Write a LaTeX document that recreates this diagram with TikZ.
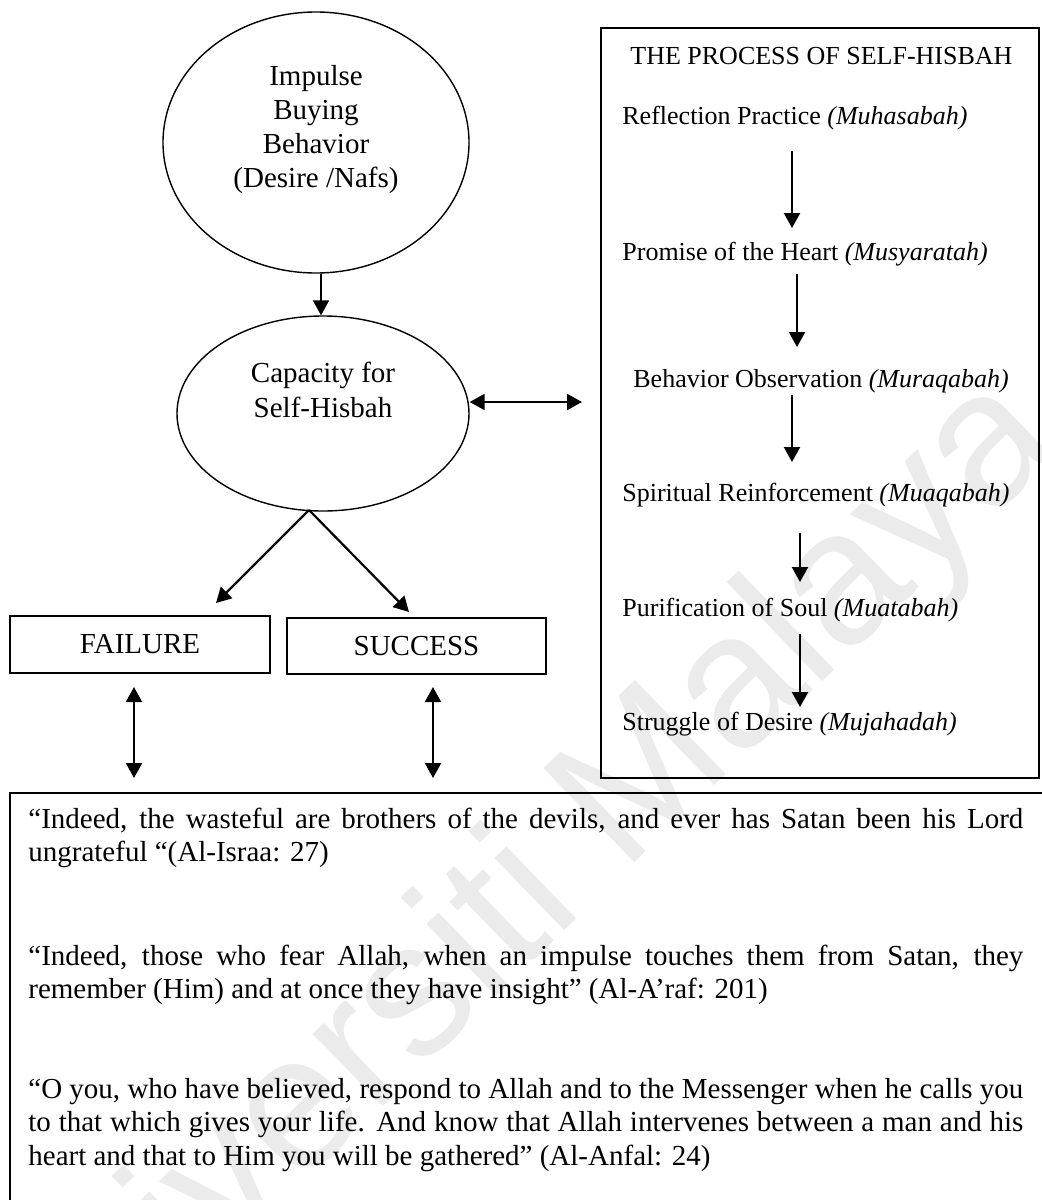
\documentclass[tikz,border=0pt]{standalone}
\usepackage{fontspec}
\setmainfont{Liberation Serif}
\setsansfont{Liberation Sans}
\usetikzlibrary{arrows.meta,shapes.geometric}

\begin{document}
\begin{tikzpicture}[x=0.5pt,y=-0.5pt,
  tip/.style={line width=1.1pt,-{Triangle[length=7.5pt,width=8pt]}},
  dtip/.style={line width=1.1pt,{Triangle[length=7.5pt,width=8pt]}-{Triangle[length=7.5pt,width=8pt]}},
  oval/.style={draw,ellipse,line width=0.7pt,inner sep=0pt},
  framebox/.style={draw,rectangle,line width=1pt,inner sep=0pt},
  lefttxt/.style={font=\fontsize{14.5}{17}\selectfont,align=center,inner sep=0pt},
  steptxt/.style={font=\fontsize{13}{15}\selectfont,anchor=base west,inner sep=0pt},
  quote/.style={font=\fontsize{14.5}{16.75}\selectfont,anchor=north west,inner sep=0pt,
    text width=497.5pt,align=justify},
  watermark/.style={text=black!8,font=\sffamily\fontsize{95}{95}\selectfont,rotate=44,inner sep=0pt}]

\useasboundingbox[fill=white] (0,0) rectangle (1041,1200);

% faint diagonal watermark behind everything
\node[watermark] (wm) at (510,915) {Universiti Malaya};

% left column: ellipses and outcome boxes
\node[oval,minimum width=153pt,minimum height=130.5pt] (imp) at (316,142.5) {};
\node[lefttxt] (imptxt) at (316,130) {Impulse\\Buying\\Behavior\\(Desire /Nafs)};

\node[oval,minimum width=146pt,minimum height=97.5pt] (cap) at (323,413.5) {};
\node[lefttxt,font=\fontsize{14.5}{17.5}\selectfont] (captxt) at (323,389.6) {Capacity for\\Self-Hisbah};

\node[framebox,minimum width=130pt,minimum height=28.5pt,font=\fontsize{14.5}{17}\selectfont] (fail) at (140,644.5) {FAILURE};
\node[framebox,minimum width=129.5pt,minimum height=28pt,font=\fontsize{14.5}{17}\selectfont] (succ) at (416.5,646) {SUCCESS};

% right panel: the process
\node[framebox,minimum width=219pt,minimum height=375pt] (proc) at (820,403) {};
\node[steptxt] (ptitle) at (630,64) {THE PROCESS OF SELF-HISBAH};
\node[steptxt] (s1) at (622,124) {Reflection Practice \textit{(Muhasabah)}};
\node[steptxt] (s2) at (622,260) {Promise of the Heart \textit{(Musyaratah)}};
\node[steptxt] (s3) at (633,387) {Behavior Observation \textit{(Muraqabah)}};
\node[steptxt] (s4) at (622,501) {Spiritual Reinforcement \textit{(Muaqabah)}};
\node[steptxt] (s5) at (622,616) {Purification of Soul \textit{(Muatabah)}};
\node[steptxt] (s6) at (622,730) {Struggle of Desire \textit{(Mujahadah)}};

% bottom panel: verses
\node[framebox,minimum width=535pt,minimum height=223.5pt] (quotes) at (545,1016.5) {};
\begin{scope}[every node/.append style={execute at begin node={\hyphenpenalty=10000\exhyphenpenalty=10000}}]
\node[quote] (q1) at (28,804.5) {\noindent\strut “Indeed, the wasteful are brothers of the devils, and ever has Satan been his Lord\linebreak ungrateful “(Al-Israa: 27)};
\node[quote] (q2) at (28,941.5) {\noindent\strut “Indeed, those who fear Allah, when an impulse touches them from Satan, they\linebreak remember (Him) and at once they have insight” (Al-A’raf: 201)};
\node[quote] (q3) at (28,1074.5) {\noindent\strut “O you, who have believed, respond to Allah and to the Messenger when he calls you\linebreak to that which gives your life. And know that Allah intervenes between a man and his\linebreak heart and that to Him you will be gathered” (Al-Anfal: 24)};
\end{scope}

% connector end points
\coordinate (hx) at (582,402);
\coordinate (split) at (309,510);
\coordinate (fe) at (216,603);
\coordinate (se) at (409,612);
\coordinate (fq1) at (134,687);
\coordinate (fq2) at (134,778);
\coordinate (sq1) at (433,687);
\coordinate (sq2) at (433,778);
\coordinate (p1a) at (792,151); \coordinate (p1b) at (792,228);
\coordinate (p2a) at (797,274); \coordinate (p2b) at (797,347);
\coordinate (p3a) at (792,395); \coordinate (p3b) at (792,462);
\coordinate (p4a) at (800,533); \coordinate (p4b) at (800,582);
\coordinate (p5a) at (800,634); \coordinate (p5b) at (800,707);

% connectors
\draw[tip] ([xshift=2.5pt]imp.south) -- ([xshift=-1pt]cap.north);
\draw[dtip] (cap.east |- hx) -- (hx);
\draw[tip] (split) -- (fe);
\draw[tip] (split) -- (se);
\draw[dtip] (fq1) -- (fq2);
\draw[dtip] (sq1) -- (sq2);
\draw[tip] (p1a) -- (p1b);
\draw[tip] (p2a) -- (p2b);
\draw[tip] (p3a) -- (p3b);
\draw[tip] (p4a) -- (p4b);
\draw[tip] (p5a) -- (p5b);
\end{tikzpicture}
\end{document}
